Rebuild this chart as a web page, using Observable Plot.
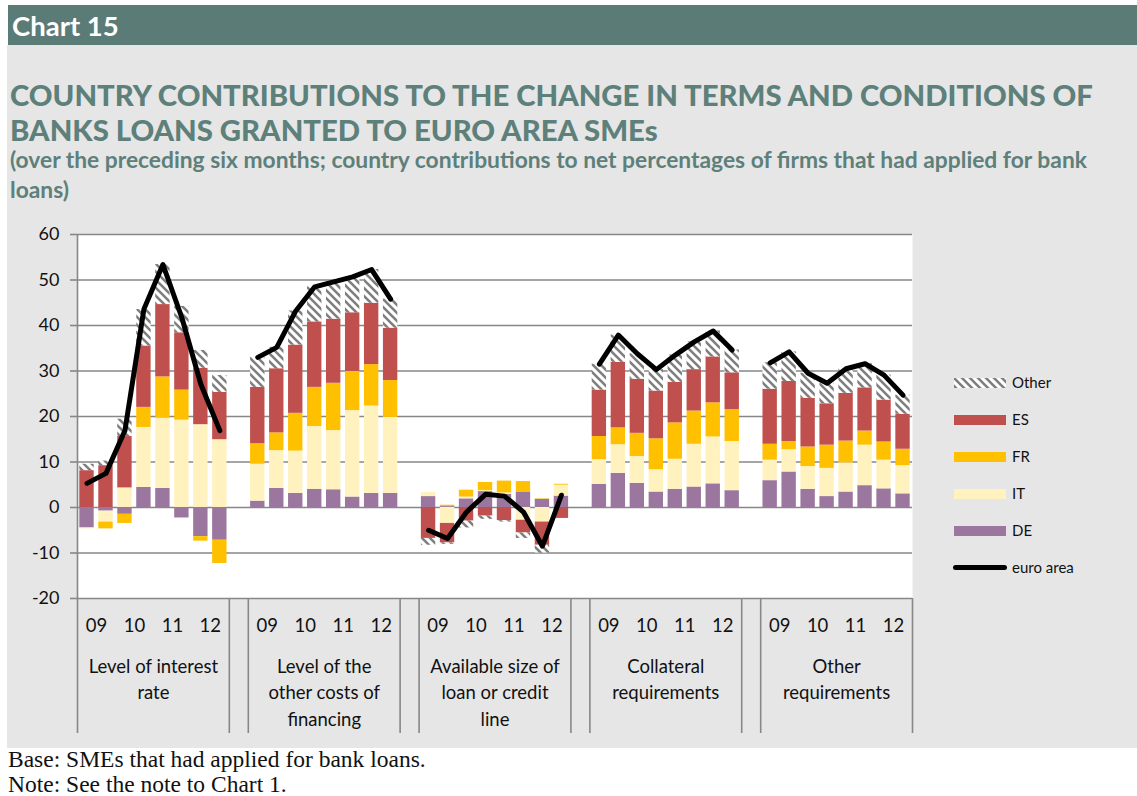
<!DOCTYPE html>
<html>
<head>
<meta charset="utf-8">
<script src="https://cdn.jsdelivr.net/npm/d3@7"></script>
<script src="https://cdn.jsdelivr.net/npm/@observablehq/plot@0.6"></script>
<style>
  html, body { margin: 0; padding: 0; }
  body { width: 1137px; height: 796px; position: relative; overflow: hidden; background: #fff; font-family: Lato, "Open Sans", sans-serif; }
  #band { position: absolute; left: 8px; top: 5px; width: 1129px; height: 40px; background: #5b7b77; }
  #band span { position: absolute; left: 4px; top: 4px; color: #fff; font-weight: 700; font-size: 27.5px; }
  #panel { position: absolute; left: 7px; top: 45px; width: 1130px; height: 703px; background: #e6e6e6; }
  #title { position: absolute; left: 10px; top: 77px; color: #5d807a; font-weight: 900; font-size: 29.3px; line-height: 35px; white-space: nowrap; }
  #subtitle { position: absolute; left: 10px; top: 144px; color: #5d807a; font-weight: 700; font-size: 22.8px; line-height: 30px; white-space: nowrap; }
  #chart { position: absolute; left: 0; top: 220px; }
  #legend { position: absolute; left: 954px; top: 376px; font-family: Lato, sans-serif; font-size: 15px; color: #111; }
  .item { position: absolute; left: 0; height: 14px; white-space: nowrap; }
  .item .sw { position: absolute; left: 0; top: 2px; width: 52px; height: 10px; }
  .item .lbl { position: absolute; left: 58px; top: -3px; }
  #footer { position: absolute; left: 8px; top: 747px; font-family: "Liberation Serif", "Times New Roman", serif; font-size: 23.5px; line-height: 25px; color: #111; white-space: nowrap; }
</style>
</head>
<body>
<div id="band"><span>Chart 15</span></div>
<div id="panel"></div>
<div id="title">COUNTRY CONTRIBUTIONS TO THE CHANGE IN TERMS AND CONDITIONS OF<br>BANKS LOANS GRANTED TO EURO AREA SMEs</div>
<div id="subtitle">(over the preceding six months; country contributions to net percentages of firms that had applied for bank<br>loans)</div>
<div id="chart"></div>
<div id="legend"></div>
<div id="footer">Base: SMEs that had applied for bank loans.<br>Note: See the note to Chart 1.</div>
<script>
// ---------- data ----------
const groups = ["Level of interest\nrate", "Level of the\nother costs of\nfinancing", "Available size of\nloan or credit\nline", "Collateral\nrequirements", "Other\nrequirements"];
const periods = ["2009H1", "2009H2", "2010H1", "2010H2", "2011H1", "2011H2", "2012H1", "2012H2"];
const yearLabels = ["09", "10", "11", "12"];
const series = ["DE", "IT", "FR", "ES", "Other"];
const seriesColors = ["#9b77a0", "#fff2bf", "#ffc000", "#c0504d", "url(#hatch)"];
const legendOrder = ["Other", "ES", "FR", "IT", "DE"];
const yTicks = [-20, -10, 0, 10, 20, 30, 40, 50, 60];

// values: 5 groups x 8 periods
const DE = [
  -4.5, -0.8, -1.5, 4.4, 4.2, -2.3, -6.4, -7.2,
  1.4, 4.2, 3.1, 4.0, 3.9, 2.3, 3.1, 3.1,
  2.4, 0.2, 1.9, 3.5, 2.9, 3.3, 1.8, 2.5,
  5.1, 7.5, 5.3, 3.4, 4.0, 4.5, 5.2, 3.7,
  5.9, 7.8, 4.0, 2.4, 3.4, 4.8, 4.1, 3.0];
const IT = [
  -0.2, -2.4, 4.3, 13.2, 15.4, 19.2, 18.2, 14.9,
  8.1, 8.3, 9.3, 13.8, 13.0, 19.0, 19.2, 16.7,
  0.9, -3.5, 0.4, 0.2, 0.3, -2.8, -3.2, 2.4,
  5.4, 6.3, 5.9, 4.9, 6.6, 9.4, 10.3, 10.8,
  4.5, 4.9, 5.0, 6.2, 6.4, 8.9, 6.3, 6.2];
const FR = [
  0.0, -1.5, -2.0, 4.4, 9.1, 6.6, -1.0, -5.1,
  4.5, 3.9, 8.3, 8.6, 10.4, 8.6, 9.1, 8.1,
  0.0, 0.3, 1.5, 1.8, 2.6, 2.4, 0.1, 0.2,
  5.1, 3.7, 5.1, 6.8, 8.0, 7.3, 7.5, 7.0,
  3.5, 1.8, 4.3, 5.1, 4.8, 3.1, 4.0, 3.6];
const ES = [
  8.1, 9.2, 11.3, 13.5, 15.9, 12.6, 12.4, 10.4,
  12.4, 14.1, 15.0, 14.4, 14.1, 12.9, 13.5, 11.5,
  -6.8, -4.3, -3.0, -1.9, -2.9, -2.8, -5.1, -2.4,
  10.2, 14.4, 11.9, 10.5, 8.9, 9.1, 10.1, 8.1,
  12.1, 13.2, 10.7, 9.1, 10.5, 9.5, 9.2, 7.7];
const Other = [
  1.4, 1.0, 3.8, 8.0, 8.8, 5.8, 3.9, 3.7,
  6.6, 4.7, 7.5, 7.7, 8.2, 7.9, 7.4, 6.4,
  -1.5, -0.3, -1.5, -0.7, -0.3, -1.2, -1.7, 0.0,
  5.7, 6.0, 5.6, 4.7, 6.0, 6.1, 5.7, 5.0,
  5.8, 6.5, 5.5, 4.5, 5.4, 5.3, 5.5, 4.2];
const euroArea = [
  5.3, 7.5, 16.9, 43.6, 53.4, 41.7, 27.1, 16.9,
  33.0, 35.2, 43.2, 48.5, 49.6, 50.7, 52.3, 45.8,
  -5.0, -6.8, -1.0, 2.9, 2.5, -1.0, -8.5, 2.7,
  31.5, 37.9, 33.8, 30.3, 33.5, 36.4, 38.8, 34.6,
  31.8, 34.2, 29.5, 27.3, 30.5, 31.6, 29.1, 24.7];

// ---------- build tables ----------
const seriesValues = {DE, IT, FR, ES, Other};
const slotsPerGroup = periods.length + 1;           // one blank slot between groups
const nSlots = groups.length * slotsPerGroup - 1;
const slotOf = (g, i) => g * slotsPerGroup + i;

const bars = [];
const line = [];
groups.forEach((grp, g) => {
  periods.forEach((p, i) => {
    const k = g * periods.length + i;
    series.forEach(s => bars.push({group: g, period: p, series: s, x1: slotOf(g, i), x2: slotOf(g, i) + 1, value: seriesValues[s][k]}));
    line.push({group: g, period: p, x: slotOf(g, i) + 0.5, value: euroArea[k]});
  });
});
const yearPos = [];
groups.forEach((grp, g) => yearLabels.forEach((y, j) => yearPos.push({label: y, x: slotOf(g, 2 * j + 1)})));
const groupPos = groups.map((grp, g) => ({label: grp, x: slotOf(g, periods.length / 2)}));
const seps = [];
groups.forEach((grp, g) => { seps.push(slotOf(g, 0)); seps.push(slotOf(g, periods.length)); });

const gridColor = "#878787";
const marginTop = 14, plotH = 364, marginBottom = 150;

const plot = Plot.plot({
  width: 1137,
  height: marginTop + plotH + marginBottom,
  marginTop, marginBottom,
  marginLeft: 77, marginRight: 225,
  style: {background: "transparent", fontFamily: "Lato, sans-serif", fontSize: "18px", color: "#111", overflow: "visible"},
  x: {type: "linear", domain: [0, nSlots], axis: null},
  y: {domain: [-20, 60], axis: null},
  color: {domain: series, range: seriesColors},
  marks: [
    Plot.frame({fill: "white", stroke: "none"}),
    Plot.ruleY(yTicks, {stroke: gridColor, strokeWidth: 1.6}),
    Plot.rectY(bars, Plot.stackY({x1: "x1", x2: "x2", y: "value", fill: "series", insetLeft: 2.3, insetRight: 2.3})),
    Plot.lineY(line, {x: "x", y: "value", z: "group", stroke: "black", strokeWidth: 5, strokeLinejoin: "round"}),
    Plot.ruleX([0], {stroke: gridColor, strokeWidth: 1.6}),
    Plot.axisY({ticks: yTicks, label: null, tickFormat: d => String(d), tickSize: 7, tickPadding: 11, stroke: gridColor, fill: "#111", fontSize: 18, strokeWidth: 1.6}),
    Plot.ruleX(seps, {stroke: gridColor, strokeWidth: 1.6, insetTop: plotH, insetBottom: -135}),
    Plot.text(yearPos, {x: "x", text: "label", frameAnchor: "bottom", dy: 33, fontSize: 18.5, fill: "#111"}),
    Plot.text(groupPos, {x: "x", text: "label", frameAnchor: "bottom", lineAnchor: "top", dy: 56, lineHeight: 1.42, fontSize: 18.5, fill: "#111"})
  ]
});

// hatch pattern for "Other"
const NS = "http://www.w3.org/2000/svg";
const hatchInner = `<rect width="8" height="8" fill="white"/><path d="M-2,-2 L10,10 M-2,6 L2,10 M6,-2 L10,2" stroke="#7f7f7f" stroke-width="2.6"/>`;
function addHatch(svg, id) {
  const defs = document.createElementNS(NS, "defs");
  defs.innerHTML = `<pattern id="${id}" patternUnits="userSpaceOnUse" width="8" height="8">${hatchInner}</pattern>`;
  svg.insertBefore(defs, svg.firstChild);
}
addHatch(plot, "hatch");
document.getElementById("chart").appendChild(plot);

// legend
const legend = document.getElementById("legend");
const rowGap = 37;
legendOrder.forEach((s, j) => {
  const item = document.createElement("div");
  item.className = "item";
  item.style.top = (j * rowGap) + "px";
  const col = seriesColors[series.indexOf(s)];
  const sw = s === "Other"
    ? `<svg class="sw" width="52" height="10"><defs><pattern id="hatchL" patternUnits="userSpaceOnUse" width="8" height="8">${hatchInner}</pattern></defs><rect width="52" height="10" fill="url(#hatchL)"/></svg>`
    : `<div class="sw" style="background:${col}"></div>`;
  item.innerHTML = sw + `<span class="lbl">${s}</span>`;
  legend.appendChild(item);
});
const li = document.createElement("div");
li.className = "item";
li.style.top = (legendOrder.length * rowGap) + "px";
li.innerHTML = `<div class="sw" style="top:4px;height:5px;background:#000;border-radius:3px;width:54px;left:-1px"></div><span class="lbl">euro area</span>`;
legend.appendChild(li);
</script>
</body>
</html>
